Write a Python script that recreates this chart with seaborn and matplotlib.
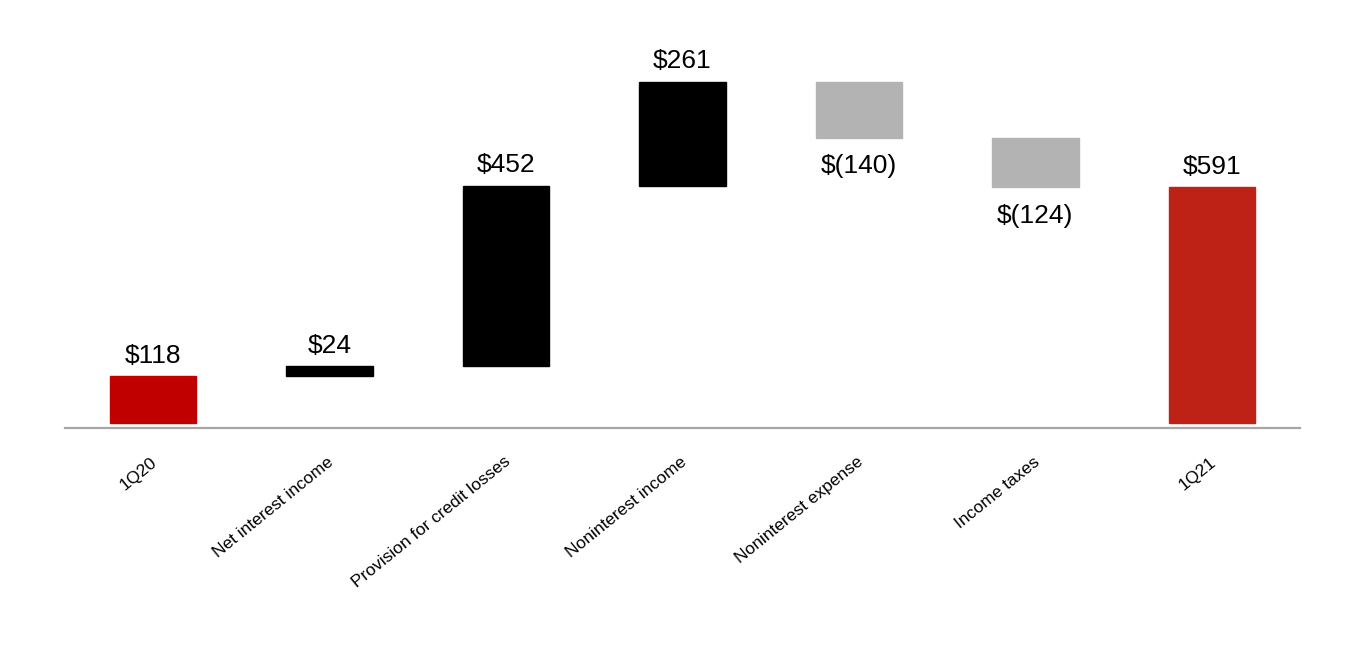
import numpy as np
import matplotlib
matplotlib.use('Agg')
import matplotlib.pyplot as plt
import matplotlib.transforms as mtransforms
import seaborn as sns

# Net income bridge, 1Q20 -> 1Q21 ($ millions)
categories = ['1Q20', 'Net interest income', 'Provision for credit losses',
              'Noninterest income', 'Noninterest expense', 'Income taxes', '1Q21']
changes = [118, 24, 452, 261, -140, -124, 591]
value_labels = ['$118', '$24', '$452', '$261', '$(140)', '$(124)', '$591']
bar_colors = ['#C00000', '#000000', '#000000', '#000000', '#B3B3B3', '#B3B3B3', '#BE2116']

sns.set_theme(style='white')
plt.rcParams['font.family'] = ['Liberation Sans', 'DejaVu Sans']

# waterfall: first and last bars start at zero, the rest float on the running total
bases = []
running = 0
for i, c in enumerate(changes):
    if i == 0 or i == len(changes) - 1:
        bases.append(0)
        running = c
    else:
        bases.append(running if c >= 0 else running + c)
        running += c
heights = [abs(c) for c in changes]

fig = plt.figure(figsize=(13.64, 6.66), dpi=100)
ax = fig.add_axes([65 / 1364, (666 - 428) / 666, 1235 / 1364, (428 - 30) / 666])

sns.barplot(x=categories, y=heights, bottom=bases, color='black', width=0.49,
            saturation=1, ax=ax)
for p, col in zip(ax.patches, bar_colors):
    p.set_facecolor(col)
    p.set_edgecolor(col)

for i, (c, b, h, lab) in enumerate(zip(changes, bases, heights, value_labels)):
    if c >= 0:
        ax.annotate(lab, (i, b + h), xytext=(0, 6), textcoords='offset points',
                    ha='center', va='bottom', fontsize=19, color='black')
    else:
        ax.annotate(lab, (i, b), xytext=(0, -12), textcoords='offset points',
                    ha='center', va='top', fontsize=19, color='black')

ax.set_xlim(-0.5, len(categories) - 0.5)
ax.set_ylim(-12.5, (423 - 30) / 0.3993)
ax.set_yticks([])
ax.set_xlabel('')
ax.set_ylabel('')
for s in ['top', 'right', 'left']:
    ax.spines[s].set_visible(False)
ax.spines['bottom'].set_color('#A6A6A6')
ax.spines['bottom'].set_linewidth(1.6)
ax.tick_params(axis='x', length=0, pad=23, labelsize=12.5, colors='black')
shift = mtransforms.ScaledTranslation(2 / 100, 0, fig.dpi_scale_trans)
for t in ax.get_xticklabels():
    t.set_rotation(39)
    t.set_rotation_mode('anchor')
    t.set_ha('right')
    t.set_va('center')
    t.set_transform(t.get_transform() + shift)

fig.savefig('out.png', dpi=100, facecolor='white')
